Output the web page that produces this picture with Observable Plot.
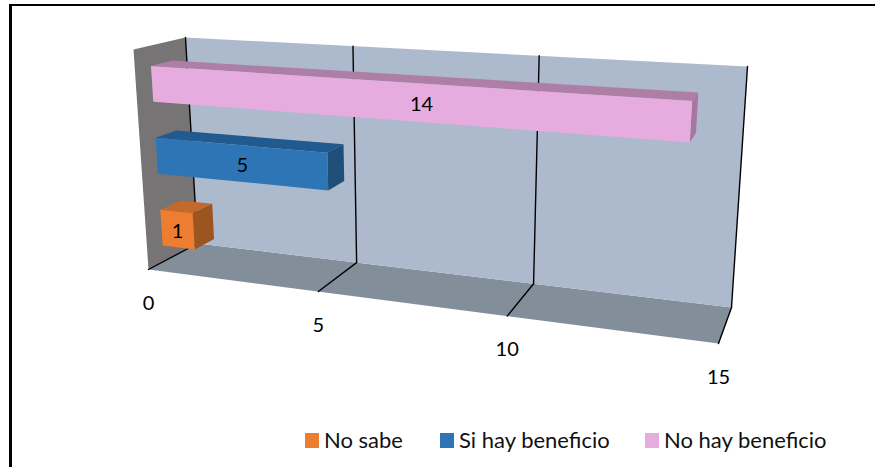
<!DOCTYPE html>
<html>
<head>
<meta charset="utf-8">
<script src="https://cdn.jsdelivr.net/npm/d3@7"></script>
<script src="https://cdn.jsdelivr.net/npm/@observablehq/plot@0.6"></script>
<style>
html,body{margin:0;padding:0;background:#fff;overflow:hidden;width:875px;height:467px}
#frame{position:absolute;left:9px;top:4px;width:900px;height:480px;border:solid #000;border-width:2px 0 0 3px;box-sizing:content-box}
#chart{position:absolute;left:0;top:0}
#legend{position:absolute;left:0;top:425px;width:875px;height:30px;font:22px Lato,sans-serif;color:#111}
#legend span{position:absolute;top:1px;white-space:nowrap}
#legend i{position:absolute;top:8px;width:14px;height:15px}
</style>
</head>
<body>
<div id="frame"></div>
<div id="chart"></div>
<div id="legend"></div>
<script>
const categories = ["No sabe", "Si hay beneficio", "No hay beneficio"];
const values = [1, 5, 14];
const tickValues = [0, 5, 10, 15];
const frontColors = ["#ed7d31", "#2e75b6", "#e6acdf"];
const topColors = ["#c4682b", "#215a8e", "#ad7ea6"];
const sideColors = ["#9c5420", "#1f4e79", "#a9769f"];

// Perspective of the 3-D box: v = value, d = depth (0 front, 1 back), h = height (0 floor, 1 top)
const vMax = 15, warp = 1.178;
const corners = {
  "000": [148, 269], "100": [718, 343], "010": [197, 243], "110": [731, 307],
  "001": [133, 49],  "101": [735, 86],  "011": [185, 37],  "111": [747, 66]
};
function project(v, d, h) {
  const s = v / vMax, t = s / (s + warp * (1 - s));
  const out = [0, 0];
  for (const a of [0, 1]) for (const b of [0, 1]) for (const c of [0, 1]) {
    const w = (a ? t : 1 - t) * (b ? d : 1 - d) * (c ? h : 1 - h);
    const p = corners[`${a}${b}${c}`];
    out[0] += w * p[0]; out[1] += w * p[1];
  }
  return out;
}
const face = pts => pts.map(([v, d, h]) => project(v, d, h));
const poly = (pts, fill) => Plot.line(face(pts), {x: p => p[0], y: p => p[1], fill, stroke: "none", curve: "linear"});
const seg = (a, b, width = 1.4) => Plot.line(face([a, b]), {x: p => p[0], y: p => p[1], stroke: "#000", strokeWidth: width});

const dFront = 0.31, dBack = 0.72, barH = 0.166, barStep = 0.333, barBase = 0.074;

const marks = [
  poly([[0,0,0],[vMax,0,0],[vMax,1,0],[0,1,0]], "#838e9b"),
  poly([[0,1,0],[vMax,1,0],[vMax,1,1],[0,1,1]], "#adb9cc"),
  poly([[0,0,0],[0,1,0],[0,1,1],[0,0,1]], "#767474")
];
for (const t of tickValues) {
  marks.push(seg([t,1,0],[t,1,1]));
  marks.push(seg([t,0,0],[t,1,0]));
}
const labels = [];
for (let i = categories.length - 1; i >= 0; i--) {
  const v = values[i], lo = barBase + barStep * i, hi = lo + barH;
  marks.push(poly([[0,dFront,hi],[v,dFront,hi],[v,dBack,hi],[0,dBack,hi]], topColors[i]));
  marks.push(poly([[v,dFront,lo],[v,dBack,lo],[v,dBack,hi],[v,dFront,hi]], sideColors[i]));
  marks.push(poly([[0,dFront,lo],[v,dFront,lo],[v,dFront,hi],[0,dFront,hi]], frontColors[i]));
  const q = face([[0,dFront,lo],[v,dFront,lo],[v,dFront,hi],[0,dFront,hi]]);
  labels.push({value: v, x: d3.mean(q, p => p[0]), y: d3.mean(q, p => p[1])});
}
marks.push(Plot.text(labels, {x: "x", y: "y", dy: 2, text: d => String(d.value), fontSize: 20, fill: "#000", fontFamily: "Lato, sans-serif"}));
marks.push(Plot.text(tickValues, {
  x: d => project(d, 0, 0)[0],
  y: d => project(d, 0, 0)[1] + 34,
  text: d => String(d), fontSize: 20, fill: "#000", fontFamily: "Lato, sans-serif"
}));

const chart = Plot.plot({
  width: 875, height: 420,
  margin: 0,
  x: {type: "identity", axis: null},
  y: {type: "identity", axis: null},
  style: {background: "transparent"},
  marks
});
document.getElementById("chart").append(chart);

const legend = document.getElementById("legend");
const legendX = [305, 440, 645];
categories.forEach((c, i) => {
  const sw = document.createElement("i");
  sw.style.left = legendX[i] + "px"; sw.style.background = frontColors[i];
  const tx = document.createElement("span");
  tx.style.left = (legendX[i] + 19) + "px"; tx.textContent = c;
  legend.append(sw, tx);
});
</script>
</body>
</html>
